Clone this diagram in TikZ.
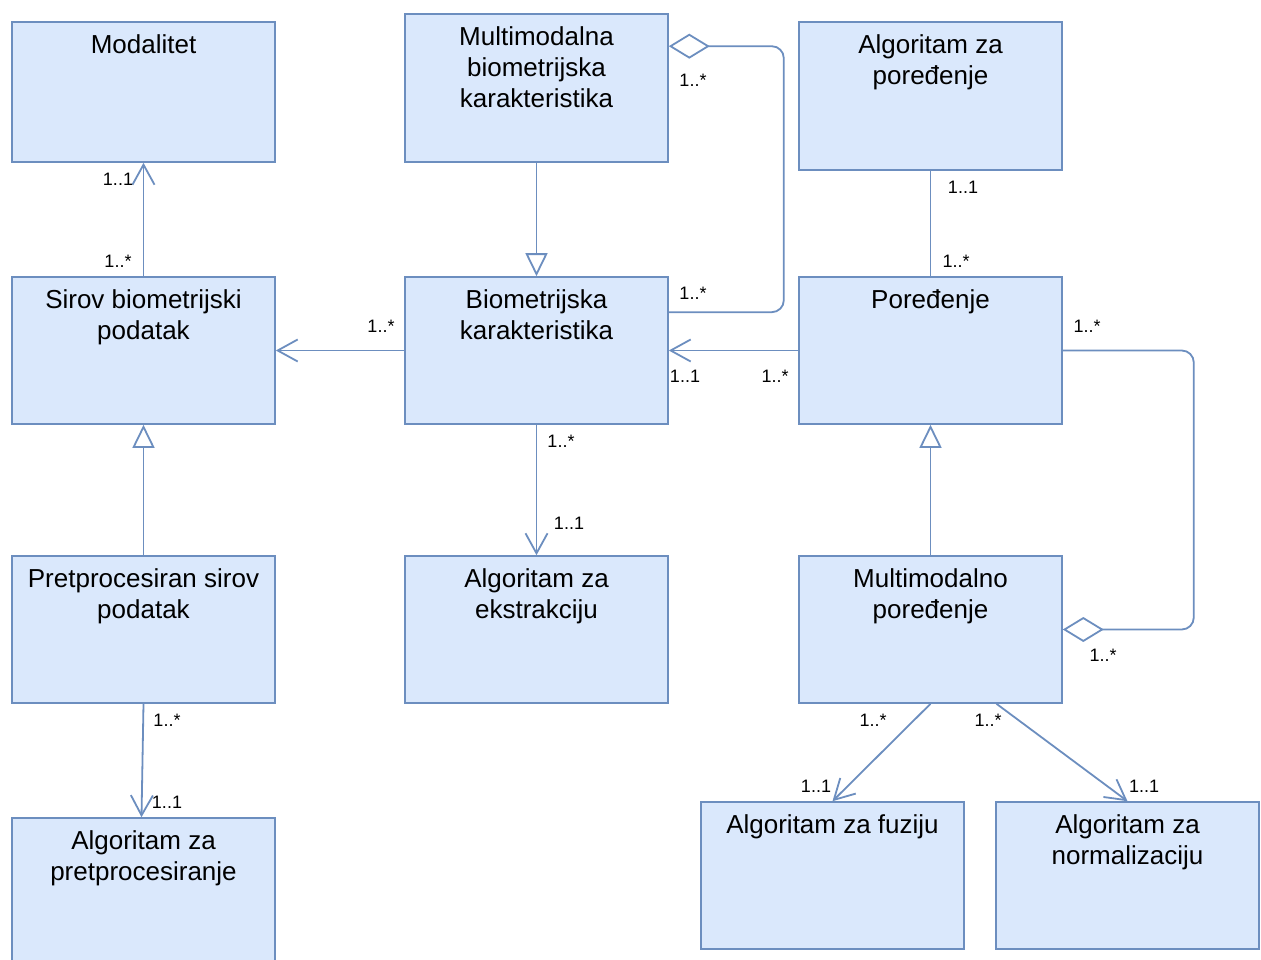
\documentclass[tikz,border=0pt]{standalone}
\usepackage{fontspec}
\newfontfamily\diagfont{Liberation Sans}
\usetikzlibrary{arrows.meta,calc}
\definecolor{boxfill}{HTML}{DAE8FC}
\definecolor{boxline}{HTML}{6C8EBF}
\begin{document}
\begin{tikzpicture}[x=1pt,y=-1pt,
  umlbox/.style={draw=boxline, fill=boxfill, line width=1.6pt, inner sep=0pt,
    minimum width=263pt, minimum height=147pt},
  title/.style={anchor=north, yshift=-13.5pt, align=center, inner sep=0pt,
    font=\diagfont\fontsize{26}{31}\selectfont},
  mult/.style={inner sep=0pt, font=\diagfont\fontsize{18}{21}\selectfont},
  conn/.style={draw=boxline, line width=1.8pt},
  assoc/.style={conn, -{Straight Barb[length=20pt, width=22pt, line width=1.8pt]}},
  inherit/.style={conn, -{Triangle[length=23pt, width=22pt, fill=white, line width=1.8pt]}},
  aggr/.style={conn, rounded corners=12pt, -{Diamond[length=41pt, width=25pt, fill=white, line width=1.8pt]}},
]
\useasboundingbox (0,0) rectangle (1261,960);
\clip (0,0) rectangle (1261,960);

% classes, left column
\node[umlbox, minimum height=140pt, label={[title, name=t-mod]north:Modalitet}] (mod) at (143.5,92) {};
\node[umlbox, label={[title, name=t-sirov]north:Sirov biometrijski\\podatak}] (sirov) at (143.5,350.5) {};
\node[umlbox, label={[title, name=t-pps]north:Pretprocesiran sirov\\podatak}] (pps) at (143.5,629.5) {};
\node[umlbox, minimum height=157pt, label={[title, name=t-azpre]north:Algoritam za\\pretprocesiranje}] (azpre) at (143.5,896.5) {};

% classes, middle column
\node[umlbox, minimum height=148pt, label={[title, name=t-mbk]north:Multimodalna\\biometrijska\\karakteristika}] (mbk) at (536.5,88) {};
\node[umlbox, label={[title, name=t-bk]north:Biometrijska\\karakteristika}] (bk) at (536.5,350.5) {};
\node[umlbox, label={[title, name=t-aze]north:Algoritam za\\ekstrakciju}] (aze) at (536.5,629.5) {};

% classes, right column
\node[umlbox, minimum height=148pt, label={[title, name=t-azp]north:Algoritam za\\poređenje}] (azp) at (930.5,96) {};
\node[umlbox, label={[title, name=t-por]north:Poređenje}] (por) at (930.5,350.5) {};
\node[umlbox, label={[title, name=t-mp]north:Multimodalno\\poređenje}] (mp) at (930.5,629.5) {};
\node[umlbox, label={[title, name=t-azf]north:Algoritam za fuziju}] (azf) at (832.5,875.5) {};
\node[umlbox, label={[title, name=t-azn]north:Algoritam za\\normalizaciju}] (azn) at (1127.5,875.5) {};

% generalisations
\draw[inherit] (mbk.south) -- (bk.north);
\draw[inherit] (pps.north) -- (sirov.south);
\draw[inherit] (mp.north) -- (por.south);

% aggregations
\draw[aggr] ($(bk.north east)+(0,36)$) -- ++(115,0) |- ($(mbk.north east)+(0,33)$);
\draw[aggr] (por.east) -- ++(131,0) |- (mp.east);

% directed associations
\draw[assoc] (sirov.north) -- (mod.south);
\draw[assoc] (bk.west) -- (sirov.east);
\draw[assoc] (por.west) -- (bk.east);
\draw[assoc] (bk.south) -- (aze.north);
\draw[assoc] (pps.south) -- ($(azpre.north)+(-2,0)$);
\draw[assoc] (mp.south) -- (azf.north);
\draw[assoc] ($(mp.south)+(66,0)$) -- (azn.north);

% plain association
\draw[conn] (azp.south) -- (por.north);

% multiplicities
\node[mult] (m1)  at (118,179)  {1..1};
\node[mult] (m2)  at (118,261)  {1..*};
\node[mult] (m3)  at (693,80)   {1..*};
\node[mult] (m4)  at (693,293)  {1..*};
\node[mult] (m5)  at (381,326)  {1..*};
\node[mult] (m6)  at (685,376)  {1..1};
\node[mult] (m7)  at (775,376)  {1..*};
\node[mult] (m8)  at (963,187)  {1..1};
\node[mult] (m9)  at (956,261)  {1..*};
\node[mult] (m10) at (1087,326) {1..*};
\node[mult] (m11) at (1103,655) {1..*};
\node[mult] (m12) at (167,720)  {1..*};
\node[mult] (m13) at (167,802)  {1..1};
\node[mult] (m14) at (561,441)  {1..*};
\node[mult] (m15) at (569,523)  {1..1};
\node[mult] (m16) at (873,720)  {1..*};
\node[mult] (m17) at (988,720)  {1..*};
\node[mult] (m18) at (816,786)  {1..1};
\node[mult] (m19) at (1144,786) {1..1};
\end{tikzpicture}
\end{document}
